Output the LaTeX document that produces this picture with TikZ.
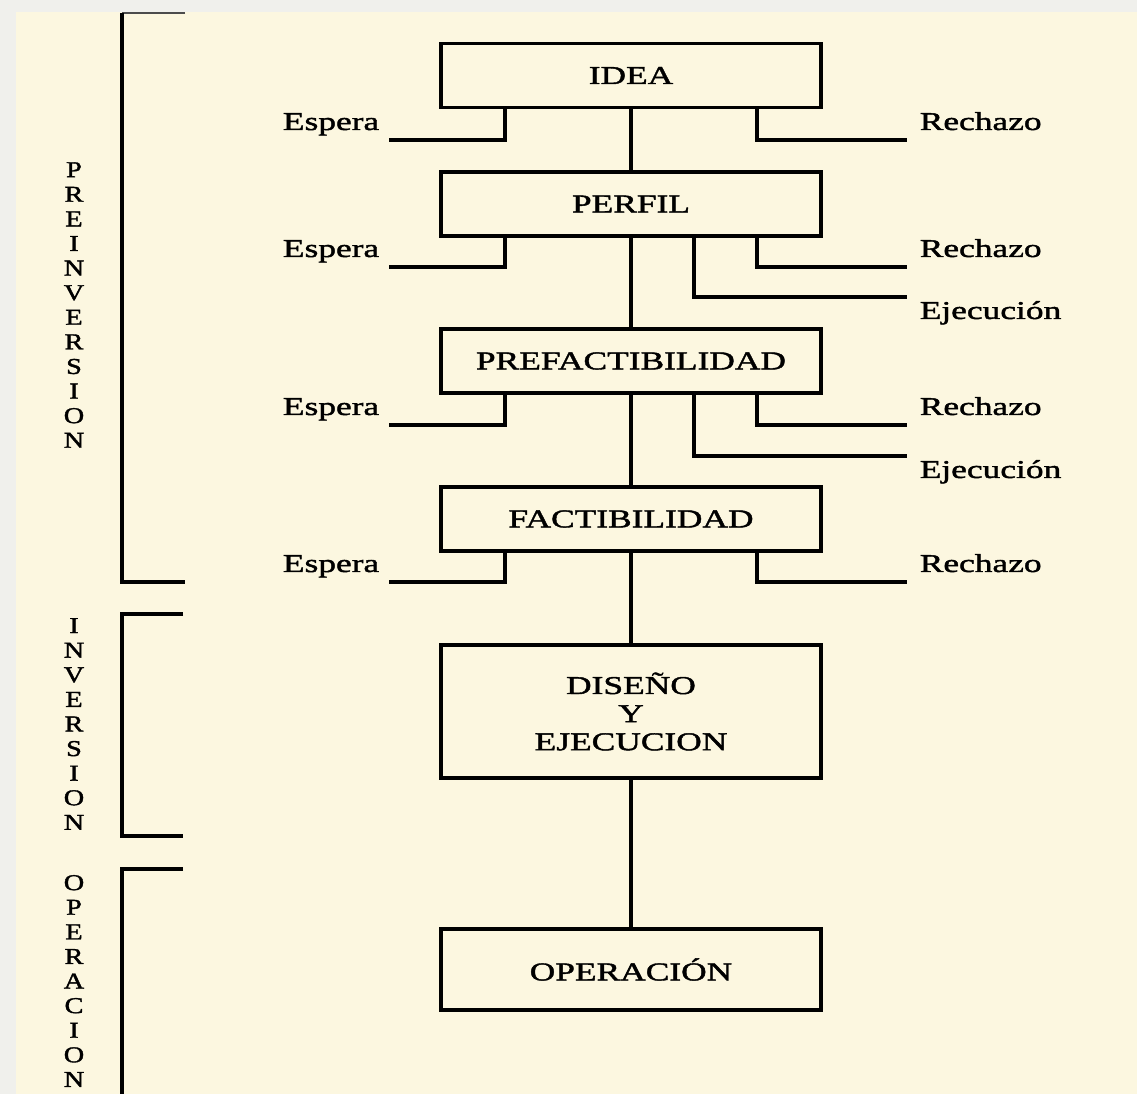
\documentclass[tikz,border=0pt]{standalone}
\usepackage{fontspec}
\setmainfont{Liberation Serif}[FakeStretch=1.38,FakeBold=1.6]
\newfontfamily\sidefont{Liberation Serif}[FakeStretch=1.25,FakeBold=1.6]
\definecolor{paper}{RGB}{252,247,224}
\definecolor{rim}{RGB}{240,240,236}

\begin{document}
\begin{tikzpicture}[x=0.02cm,y=-0.02cm,line width=2pt,
    box/.style={draw,minimum width=7.6cm,minimum height=1.28cm,inner sep=0pt,align=center,
        font=\fontsize{14.6}{16}\selectfont},
    lbl/.style={inner sep=0pt,font=\fontsize{14.6}{16}\selectfont},
    side/.style={inner sep=0pt,align=center,font=\sidefont\fontsize{12.9}{14}\selectfont}]
    \fill[rim] (0,0) rectangle (1137,1094);
    \fill[paper] (16,12) rectangle (1137,1094);
    \useasboundingbox (0,0) rectangle (1137,1094);

    % stages
    \node[box] (idea) at (631,75.5) {IDEA};
    \node[box] (perfil) at (631,204) {PERFIL};
    \node[box] (prefact) at (631,361) {PREFACTIBILIDAD};
    \node[box] (fact) at (631,519) {FACTIBILIDAD};
    \node[box,minimum height=2.66cm] (diseno) at (631,711.5) {DISEÑO\\Y\\EJECUCION};
    \node[box,minimum height=1.62cm] (oper) at (631,969.5) {OPERACIÓN};

    \draw (idea) -- (perfil);
    \draw (perfil) -- (prefact);
    \draw (prefact) -- (fact);
    \draw (fact) -- (diseno);
    \draw (diseno) -- (oper);

    % free ends of the branches
    \coordinate (esp1) at (389,140);  \coordinate (rec1) at (907,140);
    \coordinate (esp2) at (389,267);  \coordinate (rec2) at (907,267);  \coordinate (eje2) at (907,297);
    \coordinate (esp3) at (389,425);  \coordinate (rec3) at (907,425);  \coordinate (eje3) at (907,456);
    \coordinate (esp4) at (389,582);  \coordinate (rec4) at (907,582);

    \draw ([xshift=-2.52cm]idea.south) |- (esp1);
    \draw ([xshift=2.52cm]idea.south) |- (rec1);
    \draw ([xshift=-2.52cm]perfil.south) |- (esp2);
    \draw ([xshift=2.52cm]perfil.south) |- (rec2);
    \draw ([xshift=1.26cm]perfil.south) |- (eje2);
    \draw ([xshift=-2.52cm]prefact.south) |- (esp3);
    \draw ([xshift=2.52cm]prefact.south) |- (rec3);
    \draw ([xshift=1.26cm]prefact.south) |- (eje3);
    \draw ([xshift=-2.52cm]fact.south) |- (esp4);
    \draw ([xshift=2.52cm]fact.south) |- (rec4);

    \node[lbl,anchor=base east] (tesp1) at ([shift={(-8,-10)}]esp1) {Espera};
    \node[lbl,anchor=base east] (tesp2) at ([shift={(-8,-10)}]esp2) {Espera};
    \node[lbl,anchor=base east] (tesp3) at ([shift={(-8,-10)}]esp3) {Espera};
    \node[lbl,anchor=base east] (tesp4) at ([shift={(-8,-10)}]esp4) {Espera};
    \node[lbl,anchor=base west] (trec1) at ([shift={(11,-10)}]rec1) {Rechazo};
    \node[lbl,anchor=base west] (trec2) at ([shift={(11,-10)}]rec2) {Rechazo};
    \node[lbl,anchor=base west] (trec3) at ([shift={(11,-10)}]rec3) {Rechazo};
    \node[lbl,anchor=base west] (trec4) at ([shift={(11,-10)}]rec4) {Rechazo};
    \node[lbl,anchor=base west] (teje2) at ([shift={(11,22)}]eje2) {Ejecución};
    \node[lbl,anchor=base west] (teje3) at ([shift={(11,22)}]eje3) {Ejecución};

    % phases
    \draw[black!70,line width=1.4pt] (185,13) -- (122,13);
    \draw (122,13) -- (122,582) -- (185,582);
    \draw (183,614) -| (122,836) -- (183,836);
    \draw (183,869) -| (122,1100);
    \node[side] (preinv) at (74,305) {P\\R\\E\\I\\N\\V\\E\\R\\S\\I\\O\\N};
    \node[side] (inv) at (74,724) {I\\N\\V\\E\\R\\S\\I\\O\\N};
    \node[side] (operac) at (74,981) {O\\P\\E\\R\\A\\C\\I\\O\\N};
\end{tikzpicture}
\end{document}
